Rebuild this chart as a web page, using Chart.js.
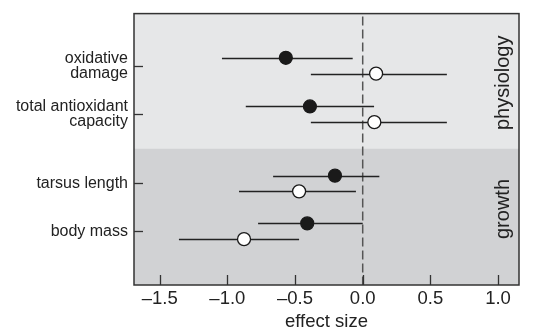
<!DOCTYPE html>
<html>
<head>
    <title>Effect sizes</title>
    <script src="https://cdn.jsdelivr.net/npm/chart.js"></script>
    <style>
        body { margin: 0; background: #fff; }
        #wrap { width: 546px; height: 333px; }
    </style>
</head>
<body>
    <div id="wrap"><canvas id="effectChart" width="546" height="333"></canvas></div>
    <script>
        // row labels and vertical positions (0 = top, 10 = bottom)
        const categories = [['oxidative', 'damage'], ['total antioxidant', 'capacity'], 'tarsus length', 'body mass'];
        const rowPos = [1.92, 3.71, 6.26, 8.02];
        const offset = 0.29;

        // filled circles (upper point in each pair)
        const filledMean = [-0.568, -0.39, -0.205, -0.41];
        const filledLow = [-1.04, -0.864, -0.662, -0.773];
        const filledHigh = [-0.074, 0.084, 0.123, 0.0];

        // open circles (lower point in each pair)
        const openMean = [0.099, 0.086, -0.47, -0.877];
        const openLow = [-0.383, -0.383, -0.914, -1.358];
        const openHigh = [0.622, 0.622, -0.05, -0.47];

        const xTicks = [-1.5, -1.0, -0.5, 0.0, 0.5, 1.0];
        const groups = ['physiology', 'growth'];
        const groupSplit = 4.97;
        const groupLabelPos = [2.55, 7.2];

        const FONT = "'Liberation Sans', Arial, Helvetica, sans-serif";

        function fmt(v) {
            return (v < 0 ? '\u2013' : '') + Math.abs(v).toFixed(1);
        }

        const filledPts = rowPos.map((y, i) => ({ x: filledMean[i], y: y - offset }));
        const openPts = rowPos.map((y, i) => ({ x: openMean[i], y: y + offset }));

        // backgrounds, whiskers, zero line, inward ticks, frame, group labels
        const decor = {
            id: 'decor',
            beforeDatasetsDraw(chart) {
                const { ctx, chartArea: a, scales: { x, y } } = chart;
                const ySplit = y.getPixelForValue(groupSplit);
                ctx.save();
                ctx.fillStyle = '#e6e7e8';
                ctx.fillRect(a.left, a.top, a.right - a.left, ySplit - a.top);
                ctx.fillStyle = '#d1d2d4';
                ctx.fillRect(a.left, ySplit, a.right - a.left, a.bottom - ySplit);

                // zero line
                ctx.strokeStyle = '#555';
                ctx.lineWidth = 1.5;
                ctx.setLineDash([9, 4]);
                const x0 = x.getPixelForValue(0);
                ctx.beginPath();
                ctx.moveTo(x0, a.top + 3);
                ctx.lineTo(x0, a.bottom);
                ctx.stroke();
                ctx.setLineDash([]);

                // whiskers
                ctx.strokeStyle = '#222';
                ctx.lineWidth = 1.3;
                rowPos.forEach((r, i) => {
                    [[filledLow[i], filledHigh[i], r - offset], [openLow[i], openHigh[i], r + offset]].forEach(s => {
                        const py = Math.round(y.getPixelForValue(s[2])) + 0.5;
                        ctx.beginPath();
                        ctx.moveTo(x.getPixelForValue(s[0]), py);
                        ctx.lineTo(x.getPixelForValue(s[1]), py);
                        ctx.stroke();
                    });
                });

                // inward ticks
                ctx.strokeStyle = '#333';
                ctx.lineWidth = 1.3;
                xTicks.forEach(t => {
                    const px = Math.round(x.getPixelForValue(t)) + 0.5;
                    ctx.beginPath();
                    ctx.moveTo(px, a.bottom);
                    ctx.lineTo(px, a.bottom - 10);
                    ctx.stroke();
                });
                rowPos.forEach(r => {
                    const py = Math.round(y.getPixelForValue(r)) + 0.5;
                    ctx.beginPath();
                    ctx.moveTo(a.left, py);
                    ctx.lineTo(a.left + 9, py);
                    ctx.stroke();
                });

                // group labels
                ctx.fillStyle = '#222';
                ctx.font = '20px ' + FONT;
                ctx.textAlign = 'center';
                ctx.textBaseline = 'middle';
                groups.forEach((g, i) => {
                    ctx.save();
                    ctx.translate(a.right - 16, y.getPixelForValue(groupLabelPos[i]));
                    ctx.rotate(-Math.PI / 2);
                    ctx.fillText(g, 0, 0);
                    ctx.restore();
                });
                ctx.restore();
            },
            afterDraw(chart) {
                const { ctx, chartArea: a } = chart;
                ctx.save();
                ctx.strokeStyle = '#333';
                ctx.lineWidth = 1.5;
                ctx.strokeRect(a.left, a.top, a.right - a.left, a.bottom - a.top);
                ctx.restore();
            }
        };

        const ctx = document.getElementById('effectChart').getContext('2d');
        new Chart(ctx, {
            type: 'scatter',
            data: {
                datasets: [
                    {
                        label: 'filled',
                        data: filledPts,
                        pointRadius: 6.5,
                        backgroundColor: '#1a1a1a',
                        borderColor: '#1a1a1a',
                        borderWidth: 1.2,
                    },
                    {
                        label: 'open',
                        data: openPts,
                        pointRadius: 6.5,
                        backgroundColor: '#ffffff',
                        borderColor: '#1a1a1a',
                        borderWidth: 1.3,
                    },
                ],
            },
            options: {
                responsive: false,
                animation: false,
                layout: { padding: { top: 12, right: 27, left: 0, bottom: 0 } },
                plugins: { legend: { display: false }, tooltip: { enabled: false } },
                scales: {
                    x: {
                        type: 'linear',
                        min: -1.69,
                        max: 1.155,
                        afterBuildTicks(scale) { scale.ticks = xTicks.map(v => ({ value: v })); },
                        afterFit(scale) { scale.height = 48; },
                        grid: { display: false, drawTicks: false },
                        border: { display: false },
                        ticks: {
                            padding: 3,
                            color: '#222',
                            font: { family: FONT, size: 18.5 },
                            callback: v => fmt(v),
                        },
                        title: {
                            display: true,
                            text: 'effect size',
                            color: '#222',
                            font: { family: FONT, size: 18.5 },
                            padding: 0,
                        },
                    },
                    y: {
                        type: 'linear',
                        min: 0,
                        max: 10,
                        reverse: true,
                        afterBuildTicks(scale) { scale.ticks = rowPos.map(v => ({ value: v })); },
                        afterFit(scale) { scale.width = 134; },
                        grid: { display: false, drawTicks: false },
                        border: { display: false },
                        ticks: {
                            padding: 6,
                            color: '#222',
                            font: { family: FONT, size: 16, lineHeight: 0.95 },
                            callback: (v, i) => categories[i],
                        },
                    },
                },
            },
            plugins: [decor],
        });
    </script>
</body>
</html>
